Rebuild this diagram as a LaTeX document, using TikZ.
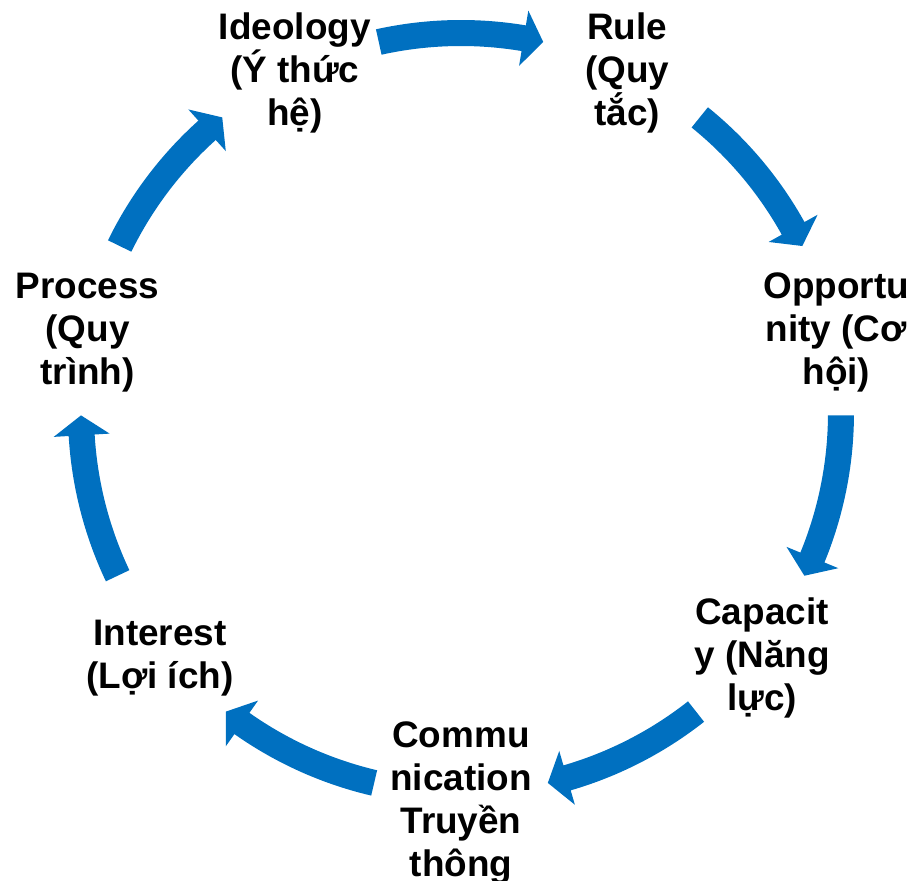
\documentclass[tikz,border=0pt]{standalone}
\usepackage{fontspec}
\setmainfont{Liberation Sans}
\usetikzlibrary{positioning}
\definecolor{cycleblue}{RGB}{0,112,192}

\begin{document}
\begin{tikzpicture}[
  lbl/.style={font=\fontsize{21}{24.5}\selectfont\bfseries, align=center, inner sep=0pt, yshift=-0.1cm},
  cyc/.style={fill=cycleblue, draw=none}]
  \useasboundingbox (-9.22,-9.36) rectangle (9.02,8.26);
  % labels round the circle
  \node[lbl] (ideology) at (115.71:7.66) {Ideology\\(Ý thức\\hệ)};
  \node[lbl] (rule) at (64.29:7.66) {Rule\\(Quy\\tắc)};
  \node[lbl] (opportunity) at (12.86:7.70) {Opportu\\nity (Cơ\\hội)};
  \node[lbl] (capacity) at (-38.57:7.70) {Capacit\\y (Năng\\lực)};
  \node[lbl] (communication) at (-90:7.70) {Commu\\nication\\Truyền\\thông};
  \node[lbl] (interest) at (-141.43:7.70) {Interest\\(Lợi ích)};
  \node[lbl] (process) at (167.14:7.66) {Process\\(Quy\\trình)};
  % curved block arrows between them
  \foreach \m in {90, 38.57, -12.86, -64.29, -115.71, -167.14, 141.43}
    \fill[cyc] (\m+12.5:7.86) arc[start angle=\m+12.5, end angle=\m-9.5, radius=7.86]
      -- (\m-9.5:8.16) -- (\m-12.5:7.6) -- (\m-9.5:7.04) -- (\m-9.5:7.34)
      arc[start angle=\m-9.5, end angle=\m+12.5, radius=7.34] -- cycle;
\end{tikzpicture}
\end{document}
